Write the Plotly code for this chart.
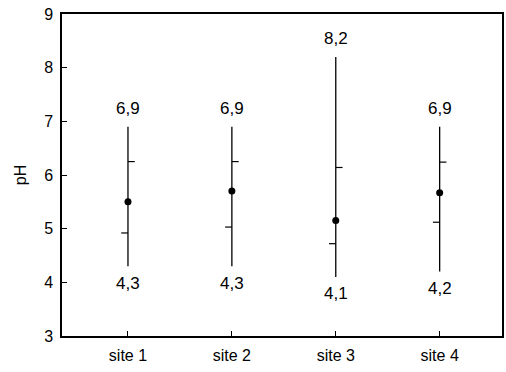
import plotly.graph_objects as go

sites = ["site 1", "site 2", "site 3", "site 4"]
ph_max = [6.9, 6.9, 8.2, 6.9]
ph_min = [4.3, 4.3, 4.1, 4.2]
ph_mean = [5.5, 5.7, 5.15, 5.67]
ph_upper = [6.25, 6.25, 6.14, 6.24]
ph_lower = [4.92, 5.03, 4.72, 5.12]
max_labels = ["6,9", "6,9", "8,2", "6,9"]
min_labels = ["4,3", "4,3", "4,1", "4,2"]
y_ticks = [3, 4, 5, 6, 7, 8, 9]

xs = list(range(len(sites)))
font = "Liberation Sans, Arial, sans-serif"

fig = go.Figure()

# range line (min to max) with mean dot
fig.add_trace(go.Scatter(
    x=xs, y=ph_mean, mode="markers",
    marker=dict(color="black", size=7),
    error_y=dict(type="data", symmetric=False,
                 array=[a - m for a, m in zip(ph_max, ph_mean)],
                 arrayminus=[m - b for m, b in zip(ph_mean, ph_min)],
                 color="black", thickness=1.3, width=0),
    showlegend=False, hoverinfo="skip"))

# upper side tick (to the right)
fig.add_trace(go.Scatter(
    x=xs, y=ph_upper, mode="markers",
    marker=dict(size=1, color="rgba(0,0,0,0)"),
    error_x=dict(type="data", symmetric=False,
                 array=[0.065] * 4, arrayminus=[0] * 4,
                 color="black", thickness=1.2, width=0),
    showlegend=False, hoverinfo="skip"))

# lower side tick (to the left)
fig.add_trace(go.Scatter(
    x=xs, y=ph_lower, mode="markers",
    marker=dict(size=1, color="rgba(0,0,0,0)"),
    error_x=dict(type="data", symmetric=False,
                 array=[0] * 4, arrayminus=[0.065] * 4,
                 color="black", thickness=1.2, width=0),
    showlegend=False, hoverinfo="skip"))

for x, v, t in zip(xs, ph_max, max_labels):
    fig.add_annotation(x=x, y=v, text=t, showarrow=False, yshift=18,
                       yanchor="middle", font=dict(family=font, size=17, color="black"))
for x, v, t in zip(xs, ph_min, min_labels):
    fig.add_annotation(x=x, y=v, text=t, showarrow=False, yshift=-17,
                       yanchor="middle", font=dict(family=font, size=17, color="black"))

fig.update_layout(
    width=506, height=372,
    margin=dict(l=62, r=4, t=14, b=36),
    paper_bgcolor="white", plot_bgcolor="white",
    font=dict(family=font, size=16, color="black"),
    xaxis=dict(range=[-0.635, 3.6], tickvals=xs, ticktext=sites, automargin=False,
               showgrid=False, zeroline=False, showline=True, linecolor="black",
               linewidth=1.5, mirror=True, ticks="inside", ticklen=5,
               tickcolor="black", tickfont=dict(size=16), ticklabelstandoff=4),
    yaxis=dict(range=[3, 9], tickvals=y_ticks, showgrid=False, zeroline=False,
               automargin=False,
               showline=True, linecolor="black", linewidth=1.5, mirror=True,
               ticks="inside", ticklen=5, tickcolor="black", ticklabelstandoff=4,
               title=dict(text="pH", standoff=14, font=dict(size=16)),
               tickfont=dict(size=16)),
)

fig.write_html("out.html", config={"displayModeBar": False},
               post_script="document.body.style.margin='0';")
